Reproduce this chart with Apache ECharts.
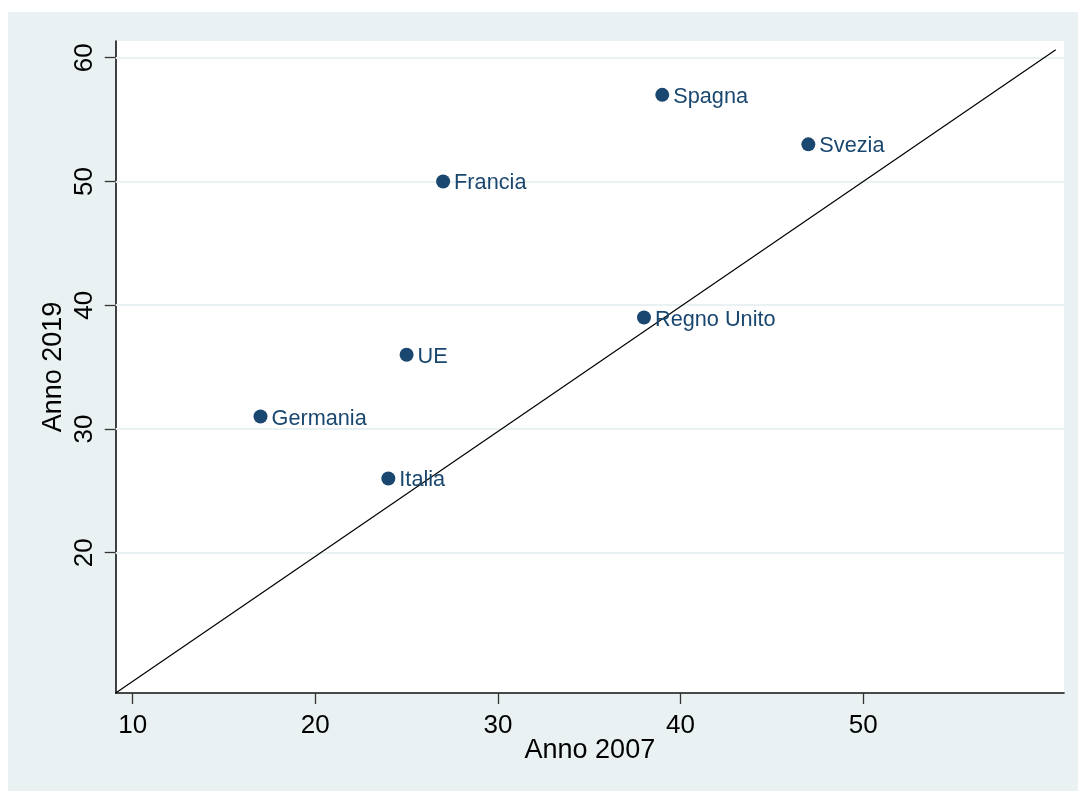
<!DOCTYPE html>
<html>
<head>
<meta charset="utf-8">
<script src="https://cdn.jsdelivr.net/npm/echarts@6/dist/echarts.min.js"></script>
<style>
html,body{margin:0;padding:0;background:#ffffff;}
#chart{width:1078px;height:791px;}
</style>
</head>
<body>
<div id="chart"></div>
<script>
// Data
const countries = ['Spagna', 'Svezia', 'Francia', 'Regno Unito', 'UE', 'Germania', 'Italia'];
const year2007 = [39, 47, 27, 38, 25, 17, 24];
const year2019 = [57, 53, 50, 39, 36, 31, 26];
const xTicks = [10, 20, 30, 40, 50];
const yTicks = [20, 30, 40, 50, 60];
const diagX = [9.07, 60.55];
const diagY = [8.66, 60.65];
const xTitle = 'Anno 2007';
const yTitle = 'Anno 2019';

const navy = '#1a476f';
const panel = '#eaf1f3';
const font = 'Liberation Sans, Arial, Helvetica, sans-serif';

const points = countries.map((c, i) => ({ name: c, value: [year2007[i], year2019[i]] }));
const diag = diagX.map((x, i) => [x, diagY[i]]);

const chart = echarts.init(document.getElementById('chart'), null, { renderer: 'canvas' });
chart.setOption({
  animation: false,
  backgroundColor: '#ffffff',
  graphic: [{
    type: 'rect', z: -10, silent: true,
    shape: { x: 8, y: 12, width: 1070, height: 779 },
    style: { fill: panel }
  }],
  grid: { left: 115.7, right: 14, top: 41, bottom: 98, show: true, backgroundColor: '#ffffff', borderWidth: 0 },
  xAxis: {
    type: 'value', min: 9.07, max: 61,
    name: xTitle, nameLocation: 'middle', nameGap: 44, nameMoveOverlap: false,
    nameTextStyle: { fontFamily: font, fontSize: 27, color: '#000' },
    axisLine: { show: true, onZero: false, lineStyle: { color: '#111', width: 1.6 } },
    axisTick: { show: true, inside: false, length: 11, customValues: xTicks, lineStyle: { color: '#333', width: 1.3 } },
    axisLabel: { customValues: xTicks, margin: 20, fontFamily: font, fontSize: 26, color: '#000' },
    splitLine: { show: false }
  },
  yAxis: {
    type: 'value', min: 8.66, max: 61.35,
    name: yTitle, nameLocation: 'middle', nameGap: 49, nameMoveOverlap: false,
    nameTextStyle: { fontFamily: font, fontSize: 27, color: '#000' },
    axisLine: { show: true, onZero: false, lineStyle: { color: '#111', width: 1.6 } },
    axisTick: { show: true, inside: false, length: 11, customValues: yTicks, lineStyle: { color: '#333', width: 1.3 } },
    axisLabel: { customValues: yTicks, rotate: 90, margin: 18, fontFamily: font, fontSize: 26, color: '#000' },
    splitLine: { show: false }
  },
  series: [
    {
      type: 'line', data: [], symbol: 'none', silent: true, z: 1,
      markLine: {
        z: 1, silent: true, symbol: 'none', animation: false,
        label: { show: false },
        lineStyle: { color: panel, width: 2.2, type: 'solid' },
        data: yTicks.map(v => ({ yAxis: v }))
      }
    },
    {
      type: 'line', data: diag, symbol: 'none', silent: true, z: 3,
      lineStyle: { color: '#000', width: 1.2 }
    },
    {
      type: 'scatter', data: points, symbol: 'circle', symbolSize: 14, z: 5,
      itemStyle: { color: navy, opacity: 1 },
      label: {
        show: true, position: 'right', distance: 4, offset: [0, 2],
        formatter: p => p.name,
        fontFamily: font, fontSize: 21.7, color: navy
      }
    }
  ]
});
</script>
</body>
</html>
